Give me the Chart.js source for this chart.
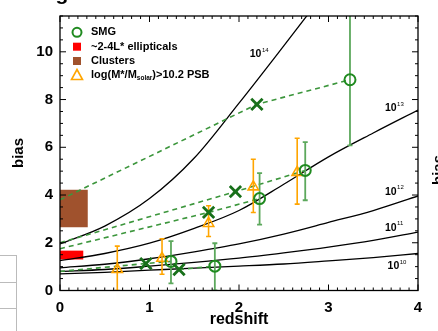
<!DOCTYPE html>
<html>
<head>
<meta charset="utf-8">
<script src="https://cdn.jsdelivr.net/npm/chart.js@4.4.0/dist/chart.umd.min.js"></script>
<style>
  html, body { margin: 0; padding: 0; background: #fff; }
</style>
</head>
<body>
<canvas id="grafico" width="438" height="331"></canvas>
<script>
// Curvas de viés dos halos
const zHalo = [0, 0.5, 1.0, 1.5, 2.0, 2.5, 3.0, 3.5, 4.0];
const bHalo10 = [0.70, 0.76, 0.85, 0.94, 1.02, 1.11, 1.24, 1.38, 1.55];
const bHalo11 = [0.80, 0.88, 1.02, 1.18, 1.36, 1.58, 1.82, 2.10, 2.45];
const bHalo12 = [0.95, 1.10, 1.33, 1.62, 1.95, 2.36, 2.85, 3.35, 3.96];
const bHalo13 = [1.25, 1.55, 1.98, 2.60, 3.35, 4.45, 5.60, 6.60, 7.56];
const zHalo14 = [0, 0.5, 1.0, 1.5, 2.0, 2.5, 2.9];
const bHalo14 = [1.95, 2.70, 3.85, 5.55, 7.85, 10.25, 12.2];

// SMG (círculos) com barras de erro
const zSMG = [1.24, 1.73, 2.23, 2.74, 3.24];
const bSMG = [1.22, 1.02, 3.85, 5.03, 8.83];
const bSMGlo = [0.30, 0.0, 2.76, 3.78, 6.08];
const bSMGhi = [2.07, 1.98, 4.92, 6.22, 12.0];

// PSB (triângulos)
const zPSB = [0.64, 1.14, 1.66, 2.16, 2.65];
const bPSB = [0.88, 1.35, 2.81, 4.34, 4.95];
const bPSBlo = [0.0, 0.68, 2.26, 3.27, 3.62];
const bPSBhi = [1.86, 2.17, 3.55, 5.50, 6.38];

// cruzes (SMG evoluídas)
const zCross = [0.96, 1.33, 1.66, 1.96, 2.20];
const bCross = [1.13, 0.88, 3.27, 4.14, 7.80];

// trilhas tracejadas
const zTrackA = [0, 2.20, 3.24];
const bTrackA = [3.8, 7.80, 8.83];
const zTrackB = [0, 1.96, 2.74];
const bTrackB = [2.0, 4.14, 5.03];
const zTrackC = [0, 1.66, 2.23];
const bTrackC = [1.75, 3.27, 3.85];
const zTrackD = [0, 0.96, 1.24];
const bTrackD = [0.80, 1.13, 1.22];
const zTrackE = [1.33, 1.73];
const bTrackE = [0.88, 1.02];

// retângulos: elípticas e aglomerados
const ellipZ = [0, 0.26];
const ellipB = [1.30, 1.67];
const clusterZ = [0, 0.31];
const clusterB = [2.65, 4.22];

// eixos
const xTicks = [0, 1, 2, 3, 4];
const yTicks = [0, 2, 4, 6, 8, 10];
const haloLabels = ["14", "13", "12", "11", "10"];
const haloLabelZ = [2.12, 3.63, 3.63, 3.63, 3.66];
const haloLabelB = [9.9, 7.63, 4.13, 2.62, 1.02];

const FONTE = "'Liberation Sans', Arial, sans-serif";
const VERDE = "#1f8a1f";
const VERDE_ESCURO = "#18701a";
const VERDE_BARRA = "#5ca85c";
const LARANJA = "#ffa500";

const pts = (xs, ys) => xs.map((v, i) => ({ x: v, y: ys[i] }));

const curva = (xs, ys) => ({
	data: pts(xs, ys),
	showLine: true,
	pointRadius: 0,
	borderColor: "#000",
	borderWidth: 1.3,
	cubicInterpolationMode: "monotone",
});

const trilha = (xs, ys) => ({
	data: pts(xs, ys),
	showLine: true,
	pointRadius: 0,
	borderColor: "#3c963c",
	borderWidth: 1.6,
	borderDash: [5, 4],
});

function barras(ctx, x, y, zs, lo, hi, cor, largura) {
	ctx.strokeStyle = cor;
	ctx.lineWidth = largura;
	zs.forEach((z, i) => {
		const px = x.getPixelForValue(z);
		const p1 = y.getPixelForValue(lo[i]);
		const p2 = y.getPixelForValue(hi[i]);
		ctx.beginPath();
		ctx.moveTo(px, p1);
		ctx.lineTo(px, p2);
		ctx.moveTo(px - 2.5, p1);
		ctx.lineTo(px + 2.5, p1);
		ctx.moveTo(px - 2.5, p2);
		ctx.lineTo(px + 2.5, p2);
		ctx.stroke();
	});
}

function textoSup(ctx, base, sup, x, y, tam, tamSup) {
	ctx.font = "bold " + tam + "px " + FONTE;
	ctx.fillText(base, x, y);
	const w = ctx.measureText(base).width;
	ctx.font = tamSup + "px " + FONTE;
	ctx.fillText(sup, x + w + 0.5, y - tam * 0.4);
}

const extras = {
	id: "extras",
	beforeDatasetsDraw(chart) {
		const { ctx, chartArea: a, scales: { x, y } } = chart;
		ctx.save();
		ctx.beginPath();
		ctx.rect(a.left, a.top, a.right - a.left, a.bottom - a.top);
		ctx.clip();
		ctx.fillStyle = "#a0522d";
		ctx.fillRect(x.getPixelForValue(clusterZ[0]), y.getPixelForValue(clusterB[1]),
			x.getPixelForValue(clusterZ[1]) - x.getPixelForValue(clusterZ[0]),
			y.getPixelForValue(clusterB[0]) - y.getPixelForValue(clusterB[1]));
		ctx.fillStyle = "#ff0000";
		ctx.fillRect(x.getPixelForValue(ellipZ[0]), y.getPixelForValue(ellipB[1]),
			x.getPixelForValue(ellipZ[1]) - x.getPixelForValue(ellipZ[0]),
			y.getPixelForValue(ellipB[0]) - y.getPixelForValue(ellipB[1]));
		ctx.restore();
	},
	beforeDatasetDraw(chart, args) {
		if (args.index !== 2) return;
		const { ctx, chartArea: a, scales: { x, y } } = chart;
		ctx.save();
		ctx.beginPath();
		ctx.rect(a.left, a.top, a.right - a.left, a.bottom - a.top);
		ctx.clip();
		barras(ctx, x, y, zPSB, bPSBlo, bPSBhi, LARANJA, 1.6);
		barras(ctx, x, y, zSMG, bSMGlo, bSMGhi, VERDE_BARRA, 1.8);
		ctx.restore();
	},
	afterDraw(chart) {
		const { ctx, chartArea: a, scales: { x, y } } = chart;
		ctx.save();
		// moldura
		ctx.strokeStyle = "#000";
		ctx.lineWidth = 1.3;
		ctx.strokeRect(a.left, a.top, a.right - a.left, a.bottom - a.top);
		// ticks para dentro
		ctx.lineWidth = 1;
		ctx.beginPath();
		for (let k = 0; k <= 40; k++) {
			const px = x.getPixelForValue(k / 10);
			const len = k % 10 === 0 ? 6 : 3;
			ctx.moveTo(px, a.bottom);
			ctx.lineTo(px, a.bottom - len);
			ctx.moveTo(px, a.top);
			ctx.lineTo(px, a.top + len);
		}
		for (let k = 0; k <= 23; k++) {
			const py = y.getPixelForValue(k / 2);
			const len = k % 4 === 0 ? 6 : 3;
			ctx.moveTo(a.left, py);
			ctx.lineTo(a.left + len, py);
			ctx.moveTo(a.right, py);
			ctx.lineTo(a.right - len, py);
		}
		ctx.stroke();

		// rótulos das curvas
		ctx.fillStyle = "#000";
		ctx.textBaseline = "middle";
		ctx.textAlign = "left";
		haloLabels.forEach((s, i) => {
			textoSup(ctx, "10", s, x.getPixelForValue(haloLabelZ[i]), y.getPixelForValue(haloLabelB[i]), 10.5, 6);
		});

		// legenda
		const lx = 77, ly = [32.3, 46.7, 61, 75], tx = 91;
		ctx.lineWidth = 2;
		ctx.strokeStyle = VERDE;
		ctx.beginPath();
		ctx.arc(lx, ly[0], 4.5, 0, Math.PI * 2);
		ctx.stroke();
		ctx.fillStyle = "#ff0000";
		ctx.fillRect(lx - 4, ly[1] - 4, 8, 8);
		ctx.fillStyle = "#a0522d";
		ctx.fillRect(lx - 4, ly[2] - 4, 8, 8);
		ctx.strokeStyle = LARANJA;
		ctx.lineWidth = 1.6;
		ctx.beginPath();
		ctx.moveTo(lx, ly[3] - 5.5);
		ctx.lineTo(lx + 5.5, ly[3] + 4.5);
		ctx.lineTo(lx - 5.5, ly[3] + 4.5);
		ctx.closePath();
		ctx.stroke();
		ctx.fillStyle = "#000";
		ctx.font = "bold 11px " + FONTE;
		ctx.fillText("SMG", tx, ly[0]);
		ctx.fillText("~2-4L* ellipticals", tx, ly[1]);
		ctx.fillText("Clusters", tx, ly[2]);
		ctx.fillText("log(M*/M", tx, ly[3]);
		const w = ctx.measureText("log(M*/M").width;
		ctx.font = "bold 6.5px " + FONTE;
		ctx.fillText("solar", tx + w, ly[3] + 3);
		const w2 = ctx.measureText("solar").width;
		ctx.font = "bold 11px " + FONTE;
		ctx.fillText(")>10.2 PSB", tx + w + w2, ly[3]);

		// títulos dos eixos
		ctx.textAlign = "center";
		ctx.font = "bold 16px " + FONTE;
		ctx.fillText("redshift", (a.left + a.right) / 2, 320);
		ctx.save();
		ctx.translate(19, 153);
		ctx.rotate(-Math.PI / 2);
		ctx.font = "bold 15px " + FONTE;
		ctx.fillText("bias", 0, 0);
		ctx.restore();
		// painel vizinho cortado
		ctx.save();
		ctx.translate(443, 170);
		ctx.rotate(-Math.PI / 2);
		ctx.textBaseline = "alphabetic";
		ctx.font = "bold 15px " + FONTE;
		ctx.fillText("bias", 0, 0);
		ctx.restore();
		ctx.textBaseline = "alphabetic";
		ctx.font = "bold 21px " + FONTE;
		ctx.fillText("g", 62, -0.5);
		ctx.strokeStyle = "#bbb";
		ctx.lineWidth = 1;
		ctx.beginPath();
		ctx.moveTo(0, 255.5); ctx.lineTo(17, 255.5);
		ctx.moveTo(0, 282.5); ctx.lineTo(17, 282.5);
		ctx.moveTo(0, 308.5); ctx.lineTo(17, 308.5);
		ctx.moveTo(16.5, 255); ctx.lineTo(16.5, 331);
		ctx.stroke();
		ctx.restore();
	},
};

new Chart(document.getElementById("grafico"), {
	type: "scatter",
	data: {
		datasets: [
			{
				data: pts(zCross, bCross),
				pointStyle: "crossRot",
				pointRadius: 8,
				borderColor: VERDE_ESCURO,
				borderWidth: 2.8,
			},
			{
				data: pts(zSMG, bSMG),
				pointStyle: "circle",
				pointRadius: 5.5,
				backgroundColor: "rgba(0,0,0,0)",
				borderColor: VERDE,
				borderWidth: 2,
			},
			{
				data: pts(zPSB, bPSB),
				pointStyle: "triangle",
				pointRadius: 6,
				backgroundColor: "rgba(0,0,0,0)",
				borderColor: LARANJA,
				borderWidth: 1.6,
			},
			trilha(zTrackA, bTrackA),
			trilha(zTrackB, bTrackB),
			trilha(zTrackC, bTrackC),
			trilha(zTrackD, bTrackD),
			trilha(zTrackE, bTrackE),
			curva(zHalo14, bHalo14),
			curva(zHalo, bHalo13),
			curva(zHalo, bHalo12),
			curva(zHalo, bHalo11),
			curva(zHalo, bHalo10),
		],
	},
	options: {
		responsive: false,
		devicePixelRatio: 1,
		animation: false,
		layout: { padding: { top: 13, right: 20, left: 0, bottom: 0 } },
		plugins: {
			legend: { display: false },
			tooltip: { enabled: false },
		},
		scales: {
			x: {
				type: "linear",
				min: 0,
				max: 4,
				grid: { display: false, drawTicks: false },
				border: { display: false },
				afterBuildTicks: (s) => { s.ticks = xTicks.map((v) => ({ value: v })); },
				afterFit: (s) => { s.height = 40.5; },
				ticks: {
					color: "#000",
					padding: 8,
					font: { family: FONTE, size: 15, weight: "bold" },
				},
			},
			y: {
				type: "linear",
				min: 0,
				max: 11.5,
				grid: { display: false, drawTicks: false },
				border: { display: false },
				afterBuildTicks: (s) => { s.ticks = yTicks.map((v) => ({ value: v })); },
				afterFit: (s) => { s.width = 60; },
				ticks: {
					color: "#000",
					padding: 7,
					font: { family: FONTE, size: 15, weight: "bold" },
				},
			},
		},
	},
	plugins: [extras],
});
</script>
</body>
</html>
